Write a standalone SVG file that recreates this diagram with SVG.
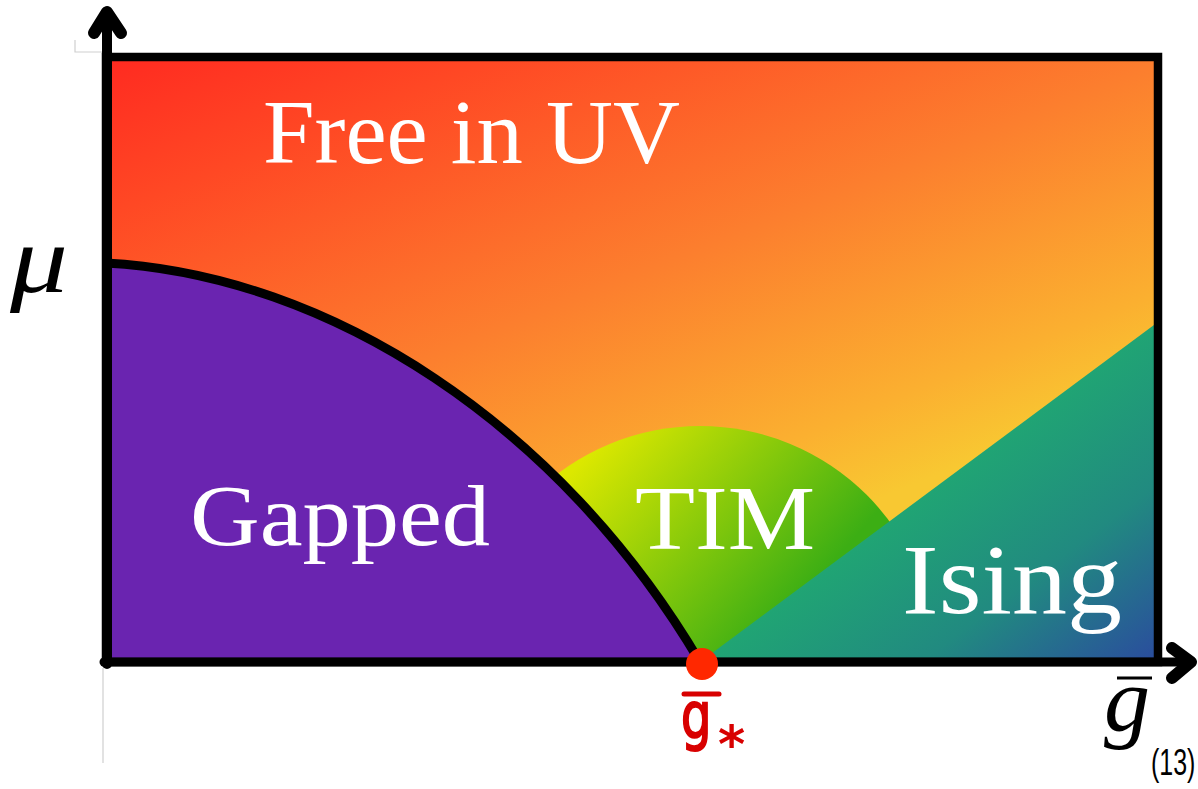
<svg xmlns="http://www.w3.org/2000/svg" width="1198" height="789" viewBox="0 0 1198 789">
<style>
.lbl{font-family:"Liberation Serif","DejaVu Serif",serif;fill:#ffffff}
.math{font-family:"Liberation Serif","DejaVu Serif",serif;font-style:italic;fill:#000000}
.axis{fill:none;stroke:#000;stroke-linecap:round;stroke-linejoin:round}
.faint{fill:none;stroke:#cfcfcf;stroke-width:1.2}
</style>
<defs>
<linearGradient id="bgGrad" gradientUnits="userSpaceOnUse" x1="100" y1="40" x2="366" y2="704">
<stop offset="0" stop-color="#ff2620"/>
<stop offset="0.23" stop-color="#ff4824"/>
<stop offset="0.58" stop-color="#fc7e2e"/>
<stop offset="0.88" stop-color="#fbb030"/>
<stop offset="1" stop-color="#f8c832"/>
</linearGradient>
<linearGradient id="timGrad" gradientUnits="userSpaceOnUse" x1="600" y1="440" x2="790" y2="610">
<stop offset="0" stop-color="#dce800"/>
<stop offset="1" stop-color="#3cae14"/>
</linearGradient>
<linearGradient id="isingGrad" gradientUnits="userSpaceOnUse" x1="980" y1="430" x2="1160" y2="670">
<stop offset="0" stop-color="#20a872"/>
<stop offset="0.5" stop-color="#218a80"/>
<stop offset="1" stop-color="#2b48a0"/>
</linearGradient>
<clipPath id="plotClip"><rect x="106" y="57" width="1052" height="605"/></clipPath>
</defs>

<g id="faint-guides">
<polyline class="faint" points="75,40 75,52 102,52"/>
<line class="faint" x1="103" y1="668" x2="103" y2="763"/>
</g>

<g id="region-free-uv">
<rect x="106" y="57" width="1052" height="605" fill="url(#bgGrad)"/>
</g>

<g id="region-tim" clip-path="url(#plotClip)">
<circle cx="700" cy="662" r="236" fill="url(#timGrad)"/>
</g>

<g id="region-ising">
<polygon points="700,662 1158,322 1158,662" fill="url(#isingGrad)"/>
</g>

<g id="region-gapped">
<path d="M106,662 L106,263 C330,275 560,425 700,662 Z" fill="#6a24b0"/>
</g>

<g id="connectors">
<path d="M106,263 C330,275 560,425 700,662" fill="none" stroke="#000" stroke-width="9"/>
<rect x="106" y="57" width="1052" height="605" fill="none" stroke="#000" stroke-width="8.5"/>
<line class="axis" x1="107" y1="664" x2="107" y2="14" stroke-width="10"/>
<polyline class="axis" points="94,33 107,12 121,33" stroke-width="12"/>
<line class="axis" x1="104" y1="662" x2="1190" y2="662" stroke-width="9"/>
<polyline class="axis" points="1172,648 1191,662 1172,678" stroke-width="12"/>
</g>

<g id="label-free">
<text class="lbl" x="263" y="163" font-size="92" textLength="417" lengthAdjust="spacingAndGlyphs">Free in UV</text>
</g>
<g id="label-gapped">
<text class="lbl" x="190" y="545" font-size="86" textLength="300" lengthAdjust="spacingAndGlyphs">Gapped</text>
</g>
<g id="label-tim">
<text class="lbl" x="635" y="549" font-size="92" textLength="180" lengthAdjust="spacingAndGlyphs">TIM</text>
</g>
<g id="label-ising">
<text class="lbl" x="902" y="613" font-size="100" textLength="220" lengthAdjust="spacingAndGlyphs">Ising</text>
</g>

<g id="axis-mu">
<text class="math" x="10" y="292" font-size="98" textLength="58" lengthAdjust="spacingAndGlyphs">μ</text>
</g>
<g id="axis-gbar">
<line x1="1117" y1="678" x2="1152" y2="678" stroke="#000" stroke-width="3"/>
<text class="math" x="1104" y="731" font-size="92">g</text>
</g>

<g id="critical-point">
<circle cx="702" cy="664" r="16" fill="#ff2800"/>
<line x1="684" y1="694" x2="719" y2="694" stroke="#d80000" stroke-width="5" stroke-linecap="round"/>
<text x="0" y="0" transform="translate(681,738) scale(1,1.35)" font-family="DejaVu Sans,sans-serif" font-size="48" fill="#d80000" stroke="#d80000" stroke-width="1.5">g</text>
<text x="718" y="762" font-family="DejaVu Sans,sans-serif" font-weight="bold" font-size="52" fill="#d80000">*</text>
</g>

<g id="page-number">
<text x="0" y="0" transform="translate(1151,775) scale(1,1.45)" font-family="Liberation Sans,sans-serif" font-size="25" fill="#000">(13)</text>
</g>
</svg>
